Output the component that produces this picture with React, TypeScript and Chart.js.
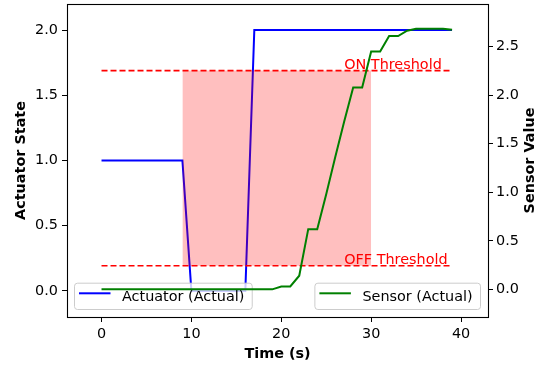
import React, { useEffect, useRef } from 'react';
import { Chart, registerables } from 'chart.js';

Chart.register(...registerables);

// ---- data ----
const TIME = [0, 1, 2, 3, 4, 5, 6, 7, 8, 9, 10, 11, 12, 13, 14, 15, 16, 17, 18, 19, 20, 21, 22, 23, 24, 25, 26, 27, 28, 29, 30, 31, 32, 33, 34, 35, 36, 37, 38, 39];
const ACTUATOR = [1, 1, 1, 1, 1, 1, 1, 1, 1, 1, 0, 0, 0, 0, 0, 0, 0, 2, 2, 2, 2, 2, 2, 2, 2, 2, 2, 2, 2, 2, 2, 2, 2, 2, 2, 2, 2, 2, 2, 2];
const SENSOR = [0, 0, 0, 0, 0, 0, 0, 0, 0, 0, 0, 0, 0, 0, 0, 0, 0, 0, 0, 0, 0.03, 0.03, 0.14, 0.62, 0.62, 0.98, 1.36, 1.73, 2.08, 2.08, 2.45, 2.45, 2.61, 2.61, 2.665, 2.685, 2.685, 2.685, 2.685, 2.675];
const ON_THRESHOLD = 2.254;
const OFF_THRESHOLD = 0.243;
const THRESHOLD_SPAN = [0, 39];
const ZONE_SPAN = [9, 30];
const THRESHOLD_LABEL_X = 27;
const X_TICKS = [0, 10, 20, 30, 40];
const Y_LEFT_TICKS = [0, 0.5, 1, 1.5, 2];
const Y_RIGHT_TICKS = [0, 0.5, 1, 1.5, 2, 2.5];
const ACTUATOR_LABEL = 'Actuator (Actual)';
const SENSOR_LABEL = 'Sensor (Actual)';
const ON_LABEL = 'ON Threshold';
const OFF_LABEL = 'OFF Threshold';
const X_TITLE = 'Time (s)';
const Y_LEFT_TITLE = 'Actuator State';
const Y_RIGHT_TITLE = 'Sensor Value';

const FONT = '"DejaVu Sans"';
const FS = 14.4;

function drawLegend(ctx: CanvasRenderingContext2D, x: number, yBottom: number, label: string, color: string, anchor: 'left' | 'right') {
  ctx.save();
  ctx.font = `${FS}px ${FONT}`;
  const tw = ctx.measureText(label).width;
  const w = 5 + 31.5 + 11.5 + tw + 7.4;
  const h = 26.3;
  const x0 = anchor === 'left' ? x : x - w;
  const y0 = yBottom - h;
  ctx.beginPath();
  if ((ctx as any).roundRect) (ctx as any).roundRect(x0 + 0.5, y0 + 0.5, w, h, 3);
  else ctx.rect(x0 + 0.5, y0 + 0.5, w, h);
  ctx.fillStyle = 'rgba(255,255,255,0.8)';
  ctx.fill();
  ctx.strokeStyle = '#cccccc';
  ctx.lineWidth = 1;
  ctx.stroke();
  ctx.beginPath();
  ctx.moveTo(x0 + 5, y0 + 10.6);
  ctx.lineTo(x0 + 36.5, y0 + 10.6);
  ctx.strokeStyle = color;
  ctx.lineWidth = 2;
  ctx.stroke();
  ctx.fillStyle = '#000';
  ctx.textAlign = 'left';
  ctx.textBaseline = 'alphabetic';
  ctx.fillText(label, x0 + 48, y0 + 18.3);
  ctx.restore();
}

export default function App() {
  const ref = useRef<HTMLCanvasElement>(null);

  useEffect(() => {
    document.body.style.margin = '0';
    const canvas = ref.current!;
    const actuatorData = TIME.map((t, i) => ({ x: t, y: ACTUATOR[i] }));
    const sensorData = TIME.map((t, i) => ({ x: t, y: SENSOR[i] }));
    const onLine = THRESHOLD_SPAN.map((t) => ({ x: t, y: ON_THRESHOLD }));
    const offLine = THRESHOLD_SPAN.map((t) => ({ x: t, y: OFF_THRESHOLD }));
    const zone = ZONE_SPAN.map((t) => ({ x: t, y: ON_THRESHOLD }));

    const SENSOR_INDEX = 4;

    const overlay = {
      id: 'overlay',
      beforeDatasetDraw(chart: any, args: any) {
        if (args.index !== SENSOR_INDEX) return;
        const ctx: CanvasRenderingContext2D = chart.ctx;
        const { x, y2 } = chart.scales;
        const area = chart.chartArea;
        ctx.save();
        ctx.font = `${FS}px ${FONT}`;
        ctx.fillStyle = 'red';
        ctx.textAlign = 'left';
        ctx.textBaseline = 'alphabetic';
        ctx.fillText(ON_LABEL, x.getPixelForValue(THRESHOLD_LABEL_X), y2.getPixelForValue(ON_THRESHOLD) - 1.7);
        ctx.fillText(OFF_LABEL, x.getPixelForValue(THRESHOLD_LABEL_X), y2.getPixelForValue(OFF_THRESHOLD) - 1.7);
        ctx.restore();
        drawLegend(ctx, area.left + 7, area.bottom - 8, ACTUATOR_LABEL, 'blue', 'left');
      },
      afterDatasetsDraw(chart: any) {
        const ctx: CanvasRenderingContext2D = chart.ctx;
        const area = chart.chartArea;
        drawLegend(ctx, area.right - 8, area.bottom - 8, SENSOR_LABEL, 'green', 'right');
        ctx.save();
        ctx.strokeStyle = '#000';
        ctx.lineWidth = 1.1;
        ctx.strokeRect(area.left + 0.5, area.top + 0.5, area.right - area.left, area.bottom - area.top);
        ctx.font = `bold ${FS}px ${FONT}`;
        ctx.fillStyle = '#000';
        ctx.textAlign = 'center';
        ctx.textBaseline = 'middle';
        ctx.translate(530, (area.top + area.bottom) / 2);
        ctx.rotate(-Math.PI / 2);
        ctx.fillText(Y_RIGHT_TITLE, 0, 0);
        ctx.restore();
      },
    };

    const noPad = (s: any) => {
      s.paddingTop = 0;
      s.paddingBottom = 0;
      s.paddingLeft = 0;
      s.paddingRight = 0;
    };

    const chart = new Chart(canvas, {
      type: 'line',
      data: {
        datasets: [
          {
            label: ACTUATOR_LABEL,
            data: actuatorData,
            yAxisID: 'y',
            borderColor: 'blue',
            borderWidth: 2,
            pointRadius: 0,
            fill: false,
            tension: 0,
            order: 4,
          },
          {
            label: ON_LABEL,
            data: onLine,
            yAxisID: 'y2',
            borderColor: 'red',
            borderWidth: 1.6,
            borderDash: [6, 3],
            pointRadius: 0,
            fill: false,
            order: 3,
          },
          {
            label: OFF_LABEL,
            data: offLine,
            yAxisID: 'y2',
            borderColor: 'red',
            borderWidth: 1.6,
            borderDash: [6, 3],
            pointRadius: 0,
            fill: false,
            order: 3,
          },
          {
            label: 'zone',
            data: zone,
            yAxisID: 'y2',
            borderColor: 'rgba(0,0,0,0)',
            borderWidth: 1,
            backgroundColor: 'rgba(255,0,0,0.25)',
            pointRadius: 0,
            fill: { value: OFF_THRESHOLD },
            order: 2,
          },
          {
            label: SENSOR_LABEL,
            data: sensorData,
            yAxisID: 'y2',
            borderColor: 'green',
            borderWidth: 2,
            pointRadius: 0,
            fill: false,
            tension: 0,
            order: 1,
          },
        ] as any,
      },
      options: {
        animation: false,
        responsive: false,
        devicePixelRatio: 1,
        layout: { padding: { top: 4, left: 0, right: 0, bottom: 0 } },
        font: { family: FONT, size: FS } as any,
        plugins: {
          legend: { display: false },
          tooltip: { enabled: false },
          filler: { drawTime: 'beforeDatasetDraw' } as any,
        },
        scales: {
          x: {
            type: 'linear',
            position: 'bottom',
            min: -3.84,
            max: 43.0,
            afterBuildTicks: (s: any) => {
              s.ticks = X_TICKS.map((v) => ({ value: v }));
            },
            afterFit: (s: any) => {
              s.height = 50;
              noPad(s);
            },
            grid: { drawOnChartArea: false, drawTicks: true, tickLength: 5, color: '#000' },
            border: { display: false },
            ticks: {
              padding: 4,
              color: '#000',
              font: { family: FONT, size: FS },
              maxRotation: 0,
              callback: (v: any) => String(v),
            },
            title: {
              display: true,
              text: X_TITLE,
              color: '#000',
              font: { family: FONT, size: FS, weight: 'bold' },
              padding: { top: 0, bottom: 4.4 },
            },
          },
          y: {
            type: 'linear',
            position: 'left',
            min: -0.2,
            max: 2.2,
            afterBuildTicks: (s: any) => {
              s.ticks = Y_LEFT_TICKS.map((v) => ({ value: v }));
            },
            afterFit: (s: any) => {
              s.width = 67;
              noPad(s);
            },
            grid: { drawOnChartArea: false, drawTicks: true, tickLength: 5, color: '#000' },
            border: { display: false },
            ticks: {
              padding: 4,
              color: '#000',
              font: { family: FONT, size: FS },
              callback: (v: any) => Number(v).toFixed(1),
            },
            title: {
              display: true,
              text: Y_LEFT_TITLE,
              color: '#000',
              font: { family: FONT, size: FS, weight: 'bold' },
              padding: { top: 13, bottom: 0 },
            },
          },
          y2: {
            type: 'linear',
            position: 'right',
            min: -0.285,
            max: 2.94,
            afterBuildTicks: (s: any) => {
              s.ticks = Y_RIGHT_TICKS.map((v) => ({ value: v }));
            },
            afterFit: (s: any) => {
              s.width = 57;
              noPad(s);
            },
            grid: { drawOnChartArea: false, drawTicks: true, tickLength: 5, color: '#000' },
            border: { display: false },
            ticks: {
              padding: 3,
              color: '#000',
              font: { family: FONT, size: FS },
              callback: (v: any) => Number(v).toFixed(1),
            },
            title: { display: false },
          },
        },
      } as any,
      plugins: [overlay],
    });

    return () => chart.destroy();
  }, []);

  return (
    <div style={{ width: 545, height: 367 }}>
      <canvas ref={ref} width={545} height={367} style={{ display: 'block' }} />
    </div>
  );
}
